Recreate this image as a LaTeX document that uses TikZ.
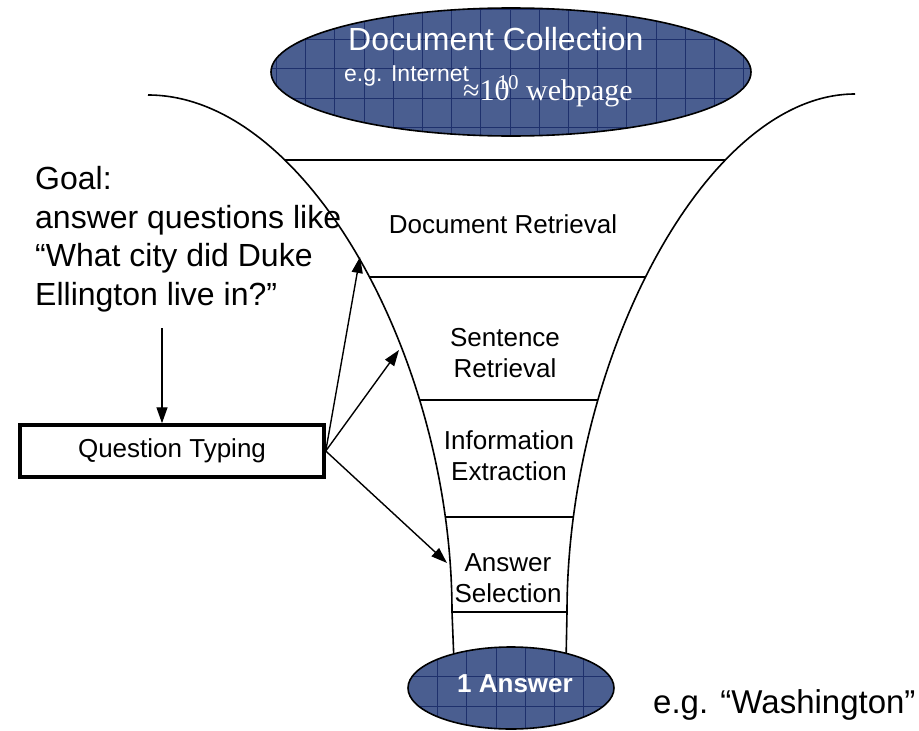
\documentclass[tikz,border=0pt]{standalone}
\usepackage{fontspec}
\setmainfont{Liberation Sans}
\newfontfamily\timesfont{Liberation Serif}
\usetikzlibrary{arrows.meta,intersections}
\definecolor{blobfill}{RGB}{74,94,144}
\definecolor{blobgrid}{RGB}{30,48,108}
\begin{document}
\begin{tikzpicture}[x=1pt,y=-1pt,
  funnel/.style={line width=1.6pt},
  stage/.style={font=\fontsize{26}{31}\selectfont, align=center, anchor=base, inner sep=0pt},
  feed/.style={-{Triangle[length=16pt,width=11pt]}, line width=1.4pt},
  gridln/.style={blobgrid, line width=0.8pt},
  plain/.style={inner sep=0pt, anchor=base west}]
\useasboundingbox (0,0) rectangle (919,731);
% funnel sides
\draw[funnel, name path=leftside] (148,95) .. controls (308,95) and (452,362) .. (452,612) -- (454,662);
\draw[funnel, name path=rightside] (855,94) .. controls (705,94) and (567,362) .. (567,612) -- (566,662);
\foreach \yy in {160,277,400,517,612} {
  \path[name path=cut] (0,\yy) -- (919,\yy);
  \draw[funnel, name intersections={of=leftside and cut, name=lx}, name intersections={of=rightside and cut, name=rx}] (lx-1) -- (rx-1);
}
% stages
\node[stage] (docret) at (503,233) {Document Retrieval};
\node[stage] (sentret) at (505,377) {Sentence\\Retrieval};
\node[stage] (infoext) at (509,480) {Information\\Extraction};
\node[stage] (anssel) at (508,602) {Answer\\Selection};
% top ellipse
\fill[blobfill] (511,72) ellipse [x radius=240pt, y radius=64pt];
\begin{scope}
\clip (511,72) ellipse [x radius=240pt, y radius=64pt];
\foreach \k in {0,...,16} {\draw[gridln] ({276.3+29.2*\k},0) -- ({276.3+29.2*\k},140);}
\foreach \k in {0,...,4} {\draw[gridln] (270,{9.8+29.5*\k}) -- (755,{9.8+29.5*\k});}
\end{scope}
\draw[funnel] (511,72) ellipse [x radius=240pt, y radius=64pt];
\node[plain, white, font=\fontsize{32}{38}\selectfont] (collname) at (348,50) {Document Collection};
\node[plain, white, font=\fontsize{23}{27}\selectfont] (colleg) at (344,81) {e.g. Internet};
\node[plain, white, font=\timesfont\fontsize{30}{36}\selectfont] (collsize) at (463,100) {≈10\kern-12pt\raisebox{11pt}{\fontsize{21}{21}\selectfont 10} webpage};
% bottom ellipse
\fill[blobfill] (511,688) ellipse [x radius=103pt, y radius=41pt];
\begin{scope}
\clip (511,688) ellipse [x radius=103pt, y radius=41pt];
\foreach \k in {0,...,7} {\draw[gridln] ({408+29.3*\k},640) -- ({408+29.3*\k},735);}
\foreach \k in {0,...,2} {\draw[gridln] (400,{647.4+29.3*\k}) -- (620,{647.4+29.3*\k});}
\end{scope}
\draw[funnel] (511,688) ellipse [x radius=103pt, y radius=41pt];
\node[plain, white, font=\bfseries\fontsize{26}{31}\selectfont] (answer) at (457,692) {1 Answer};
\node[plain, font=\fontsize{33}{40}\selectfont] (example) at (653,713) {e.g. “Washington”};
% goal and question typing
\node[plain, align=left, font=\fontsize{32}{38.5}\selectfont] (goal) at (35,305) {Goal:\\answer questions like\\“What city did Duke\\Ellington live in?”};
\node[draw, line width=3.5pt, minimum width=304pt, minimum height=52pt, inner sep=0pt, font=\fontsize{26}{31}\selectfont] (qtype) at (172,451) {Question Typing};
\coordinate (goaltail) at (162,328);
\coordinate (hitdoc) at (360,257);
\coordinate (hitsent) at (399,350);
\coordinate (hitans) at (447,563);
\draw[feed] (goaltail) -- (goaltail |- qtype.north);
\draw[feed] (qtype.east) -- (hitdoc);
\draw[feed] (qtype.east) -- (hitsent);
\draw[feed] (qtype.east) -- (hitans);
\end{tikzpicture}
\end{document}
